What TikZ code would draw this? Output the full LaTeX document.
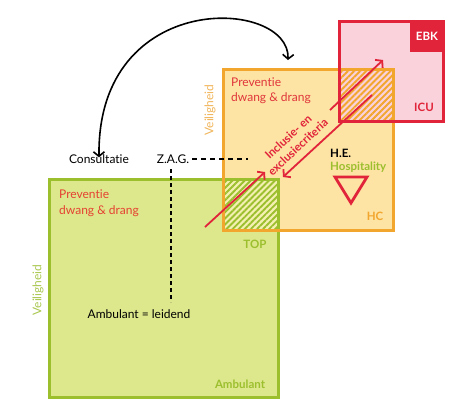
\documentclass[tikz,border=0pt]{standalone}
\usepackage{fontspec}
\setmainfont{Lato}[Ligatures=NoCommon]
\usetikzlibrary{patterns.meta,arrows.meta}
\definecolor{greenfill}{HTML}{DDE78C}
\definecolor{greenline}{HTML}{9CBF2E}
\definecolor{greenhatch}{HTML}{F4F0B2}
\definecolor{orangefill}{HTML}{FDE3A4}
\definecolor{orangeline}{HTML}{F2A62D}
\definecolor{redline}{HTML}{E1243A}
\definecolor{pinkfill}{HTML}{F9D2DB}
\definecolor{redtext}{HTML}{E0363A}
\definecolor{vorange}{HTML}{F0B55A}
\definecolor{vgreen}{HTML}{A9C74F}
\begin{document}
\begin{tikzpicture}[x=1pt,y=-1pt,
  txt/.style={inner sep=0pt, font=\fontsize{12}{15.5}\selectfont},
  redlbl/.style={txt, text=redtext, align=left},
  boldlbl/.style={txt, font=\fontsize{11.5}{14}\selectfont\bfseries},
  redarrow/.style={draw=redline, line width=1.8pt, -{Straight Barb[length=4.5pt,width=11pt]}},
  blackarrow/.style={draw=black, line width=1.6pt, {Straight Barb[length=4.5pt,width=11pt]}-{Straight Barb[length=4.5pt,width=11pt]}},
  dashline/.style={draw=black, line width=2pt, dash pattern=on 5pt off 4pt},
  hatch/.style={pattern={Lines[angle=45,distance=4.3pt,line width=1.9pt]}}
]
\useasboundingbox (0,0) rectangle (474,413);
% fills
\fill[greenfill] (49,179) rectangle (278,397);
\fill[orangefill] (223,69) rectangle (393,230);
\fill[pinkfill] (339,21) rectangle (443,121);
% hatched overlaps
\fill[greenhatch] (223,179) rectangle (278,230);
\fill[hatch, pattern color=greenline] (223,179) rectangle (278,230);
\fill[pinkfill] (339,69) rectangle (393,121);
\fill[hatch, pattern color=orangeline] (339,69) rectangle (393,121);
% borders
\draw[greenline, line width=3pt] (49,179) rectangle (278,397);
\draw[orangeline, line width=3pt] (223,69) rectangle (393,230);
\draw[redline, line width=3pt] (339,21) rectangle (443,121);
\fill[redline] (410,21) rectangle (443,52);
% labels
\node[boldlbl, text=white] (ebk) at (427,36) {EBK};
\node[boldlbl, text=redline] (icu) at (424,107) {ICU};
\node[boldlbl, text=orangeline] (hc) at (375,216) {HC};
\node[boldlbl, text=greenline] (top) at (255,244) {TOP};
\node[boldlbl, text=greenline] (amb) at (240,384) {Ambulant};
\node[redlbl, anchor=west] (prevhc) at (231,90.5) {Preventie\\dwang \& drang};
\node[redlbl, anchor=west, text=redtext!85!orange] (prevamb) at (59,203) {Preventie\\dwang \& drang};
\node[txt, text=vorange, rotate=90] (vhc) at (210,110) {Veiligheid};
\node[txt, text=vgreen, rotate=90] (vamb) at (38,290) {Veiligheid};
\node[boldlbl, anchor=west] (he) at (330,153) {H.E.};
\node[boldlbl, text=greenline, anchor=west] (hosp) at (330,167) {Hospitality};
\draw[redline, line width=2.8pt, line join=miter] (335,177) -- (367,177) -- (351,203) -- cycle;
\node[txt, font=\fontsize{11.5}{14}\selectfont\bfseries, text=redline, rotate=43, align=center] (incl) at (293,142) {Inclusie- en\\exclusiecriteria};
\node[txt] (consult) at (99,159) {Consultatie};
\node[txt] (zag) at (173,159) {Z.A.G.};
\node[txt] (leidend) at (139,314) {Ambulant = leidend};
% connectors
\coordinate (a1s) at (205,227);
\coordinate (a1m) at (265,172);
\coordinate (a1n) at (330,110);
\coordinate (a1e) at (383,60);
\draw[redarrow] (a1s) -- (a1m);
\draw[redarrow] (a1n) -- (a1e);
\coordinate (a2s) at (372,95);
\coordinate (a2e) at (283,177);
\draw[redarrow] (a2s) -- (a2e);
\coordinate (hctarget) at (288,60);
\draw[blackarrow] ([yshift=-3pt]consult.north) .. controls (97,-12) and (290,-2) .. (hctarget);
\coordinate (dashend) at (248,159);
\draw[dashline] ([xshift=3pt]zag.east) -- (dashend);
\coordinate (vtop) at (171,169);
\coordinate (vbot) at (171,302);
\draw[dashline, dash pattern=on 4pt off 3pt] (vtop) -- (vbot);
\end{tikzpicture}
\end{document}
